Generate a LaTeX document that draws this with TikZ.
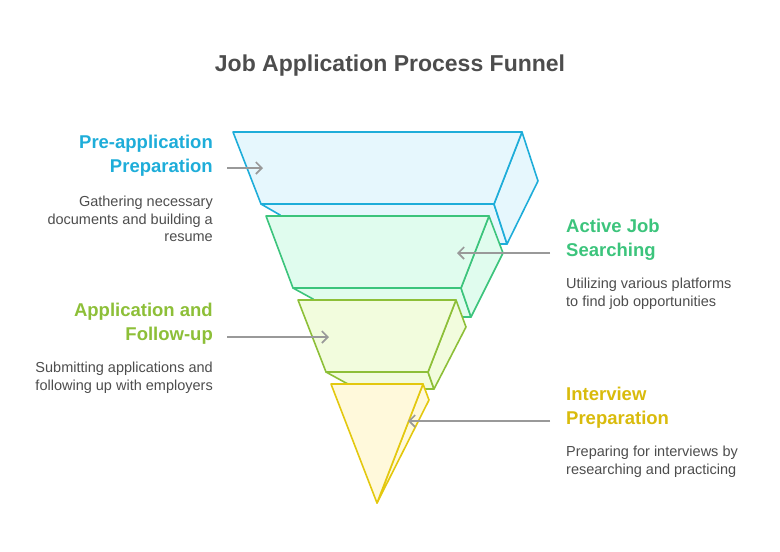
\documentclass[tikz,border=0pt]{standalone}
\usepackage{fontspec}
\setmainfont{Liberation Sans}
\usetikzlibrary{arrows.meta}
\definecolor{blueline}{HTML}{1EADD9}
\definecolor{bluefill}{HTML}{E6F7FD}
\definecolor{greenline}{HTML}{3CC47C}
\definecolor{greenfill}{HTML}{E0FCEE}
\definecolor{oliveline}{HTML}{8DBF38}
\definecolor{olivefill}{HTML}{F2FCDD}
\definecolor{yellowline}{HTML}{E3C80F}
\definecolor{yellowfill}{HTML}{FFF9DB}
\definecolor{yellowtext}{HTML}{D9BB0C}
\definecolor{graytext}{HTML}{4D4D4D}
\tikzset{
  face/.style={line width=1.6pt, line join=round},
  pointer/.style={draw=gray!80, line width=1.6pt, -{Straight Barb[length=6pt,width=12pt]}},
  heading/.style={font=\bfseries\fontsize{18.5}{23.5}\selectfont, inner sep=0pt},
  blurb/.style={font=\fontsize{14.5}{17.5}\selectfont, text=graytext, inner sep=0pt}
}
\begin{document}
\begin{tikzpicture}[x=1pt, y=-1pt]
\useasboundingbox (0,0) rectangle (780,552);

\node[font=\bfseries\fontsize{23}{26}\selectfont, text=graytext] (title) at (390,66) {Job Application Process Funnel};

% stage 1
\filldraw[face, draw=blueline, fill=bluefill] (261,204) -- (280,215) -- (300,244) -- (507,244) -- (494,204) -- cycle;
\filldraw[face, draw=blueline, fill=bluefill] (522,132) -- (538,181) -- (507,244) -- (494,204) -- cycle;
\filldraw[face, draw=blueline, fill=bluefill] (233,132) -- (522,132) -- (494,204) -- (261,204) -- cycle;

% stage 2
\filldraw[face, draw=greenline, fill=greenfill] (293,288) -- (313,299) -- (330,317) -- (471,317) -- (461,288) -- cycle;
\filldraw[face, draw=greenline, fill=greenfill] (489,216) -- (503,253) -- (471,317) -- (461,288) -- cycle;
\filldraw[face, draw=greenline, fill=greenfill] (266,216) -- (489,216) -- (461,288) -- (293,288) -- cycle;

% stage 3
\filldraw[face, draw=oliveline, fill=olivefill] (326,372) -- (346,383) -- (360,389) -- (434,389) -- (428,372) -- cycle;
\filldraw[face, draw=oliveline, fill=olivefill] (456,300) -- (466,327) -- (434,389) -- (428,372) -- cycle;
\filldraw[face, draw=oliveline, fill=olivefill] (298,300) -- (456,300) -- (428,372) -- (326,372) -- cycle;

% stage 4
\filldraw[face, draw=yellowline, fill=yellowfill] (423,384) -- (429,400) -- (377,503) -- cycle;
\filldraw[face, draw=yellowline, fill=yellowfill] (331,384) -- (423,384) -- (377,503) -- cycle;

% arrows
\coordinate (s1) at (263,168); \coordinate (l1) at (227,168);
\coordinate (s2) at (457,253); \coordinate (l2) at (550,253);
\coordinate (s3) at (329,337); \coordinate (l3) at (227,337);
\coordinate (s4) at (408,421); \coordinate (l4) at (550,421);
\draw[pointer] (l1) -- (s1);
\draw[pointer] (l2) -- (s2);
\draw[pointer] (l3) -- (s3);
\draw[pointer] (l4) -- (s4);

% labels
\node[heading, text=blueline, align=right, anchor=north east] (prep) at (213,135) {Pre-application\\Preparation};
\node[blurb, align=right, anchor=north east] (prepdesc) at (213,196) {Gathering necessary\\documents and building a\\resume};
\node[heading, text=greenline, align=left, anchor=north west] (search) at (566,219) {Active Job\\Searching};
\node[blurb, align=left, anchor=north west] (searchdesc) at (566,278) {Utilizing various platforms\\to find job opportunities};
\node[heading, text=oliveline, align=right, anchor=north east] (apply) at (213,303) {Application and\\Follow-up};
\node[blurb, align=right, anchor=north east] (applydesc) at (213,362) {Submitting applications and\\following up with employers};
\node[heading, text=yellowtext, align=left, anchor=north west] (interview) at (566,387) {Interview\\Preparation};
\node[blurb, align=left, anchor=north west] (interviewdesc) at (566,446) {Preparing for interviews by\\researching and practicing};
\end{tikzpicture}
\end{document}
